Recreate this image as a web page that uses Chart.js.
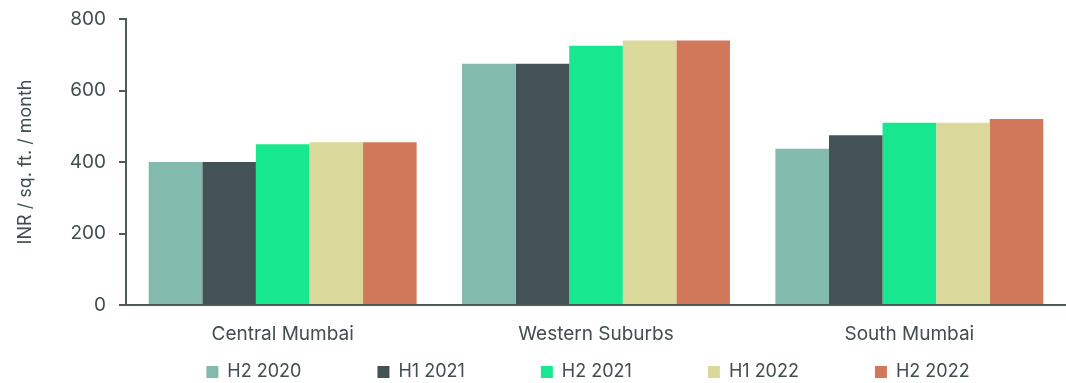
<!DOCTYPE html>
<html>
<head>
<meta charset="utf-8">
<script src="https://cdn.jsdelivr.net/npm/chart.js@4/dist/chart.umd.min.js"></script>
<style>
  html, body { margin: 0; padding: 0; background: #ffffff; overflow: hidden; }
  #wrap { width: 1066px; height: 383px; position: relative; overflow: hidden; }
</style>
</head>
<body>
<div id="wrap"><canvas id="chart" width="1066" height="383"></canvas></div>
<script>
// Office rents by micro-market, INR per sq. ft. per month
const regions = ['Central Mumbai', 'Western Suburbs', 'South Mumbai'];
const periods = ['H2 2020', 'H1 2021', 'H2 2021', 'H1 2022', 'H2 2022'];
const rentH2_2020 = [400, 675, 437];
const rentH1_2021 = [400, 675, 475];
const rentH2_2021 = [450, 725, 510];
const rentH1_2022 = [455, 740, 510];
const rentH2_2022 = [455, 740, 520];
const yTickValues = [0, 200, 400, 600, 800];
const axisTitle = 'INR / sq. ft. / month';

const seriesValues = [rentH2_2020, rentH1_2021, rentH2_2021, rentH1_2022, rentH2_2022];
const seriesColours = ['#82bbad', '#435254', '#17e88f', '#dbd89c', '#d2785a'];

const inkColour = '#414d4f';
const axisColour = '#4f5a5b';
const fontFamily = 'Inter, "Noto Sans", sans-serif';

// Places the legend row under the category labels, centred on the plot
const legendPlacement = {
  id: 'legendPlacement',
  afterLayout(chart) {
    const lg = chart.legend;
    if (!lg) return;
    const pad = lg.options.labels.padding;
    const dx = 588 - (lg.left + lg.right) / 2;
    lg.left += dx;
    lg.right += dx;
    lg.top = 372 - 9 - pad;
  }
};

new Chart(document.getElementById('chart'), {
  type: 'bar',
  data: {
    labels: regions,
    datasets: periods.map((p, i) => ({
      label: p,
      data: seriesValues[i],
      backgroundColor: seriesColours[i],
      borderWidth: 0,
      categoryPercentage: 0.855,
      barPercentage: 1.0
    }))
  },
  options: {
    responsive: false,
    animation: false,
    layout: { padding: { left: 0, right: -7, top: 19, bottom: 0 } },
    plugins: {
      tooltip: { enabled: false },
      legend: {
        position: 'bottom',
        maxHeight: 30,
        labels: {
          boxWidth: 12,
          boxHeight: 12,
          padding: 76,
          color: inkColour,
          font: { family: fontFamily, size: 18 }
        }
      }
    },
    scales: {
      x: {
        grid: { display: false },
        border: { display: true, color: axisColour, width: 2 },
        ticks: {
          color: inkColour,
          padding: 10,
          font: { family: fontFamily, size: 19 }
        },
        afterFit(scale) { scale.height = 48; }
      },
      y: {
        min: 0,
        max: 800,
        afterBuildTicks(scale) { scale.ticks = yTickValues.map(v => ({ value: v })); },
        grid: {
          display: true,
          drawOnChartArea: false,
          drawTicks: true,
          tickLength: 7,
          color: axisColour,
          lineWidth: 2
        },
        border: { display: true, color: axisColour, width: 2 },
        ticks: {
          color: inkColour,
          padding: 13,
          font: { family: fontFamily, size: 19 }
        },
        title: {
          display: true,
          text: axisTitle,
          color: inkColour,
          padding: { top: 15, bottom: 0 },
          font: { family: fontFamily, size: 18 }
        },
        afterFit(scale) {
          scale.width = 126;
          scale.paddingTop = 0;
          scale.paddingBottom = 0;
        }
      }
    }
  },
  plugins: [legendPlacement]
});
</script>
</body>
</html>
